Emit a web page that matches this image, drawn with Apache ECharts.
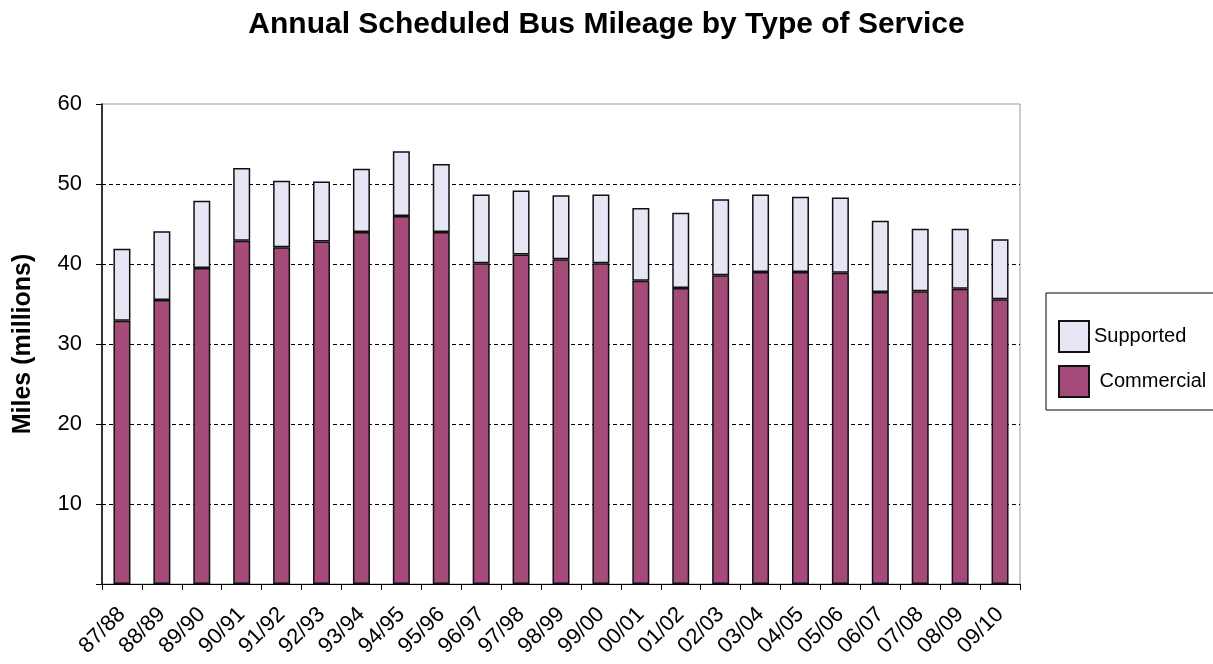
<!DOCTYPE html>
<html><head><meta charset="utf-8">
<script src="https://cdn.jsdelivr.net/npm/echarts@6/dist/echarts.min.js"></script>
<style>html,body{margin:0;padding:0;background:#fff}#c{width:1213px;height:664px}</style>
</head><body><div id="c"></div>
<script>
const categories = ["87/88","88/89","89/90","90/91","91/92","92/93","93/94","94/95","95/96","96/97","97/98","98/99","99/00","00/01","01/02","02/03","03/04","04/05","05/06","06/07","07/08","08/09","09/10"];
const commercial = [32.9,35.5,39.5,42.9,42.1,42.8,44.0,46.0,44.0,40.1,41.2,40.6,40.1,37.9,37.0,38.6,39.0,39.0,38.9,36.5,36.6,36.9,35.6];
const supported  = [9.0,8.6,8.4,9.1,8.3,7.5,7.9,8.1,8.5,8.6,8.0,8.0,8.6,9.1,9.4,9.5,9.7,9.4,9.4,8.9,7.8,7.5,7.5];
const yTicks = [10,20,30,40,50,60];

const chart = echarts.init(document.getElementById('c'));
const F = 'Liberation Sans, Arial, sans-serif';
chart.setOption({
  animation:false,
  textStyle:{fontFamily:F},
  title:{text:'Annual Scheduled Bus Mileage by Type of Service',left:'center',top:5,
    textStyle:{fontFamily:F,fontSize:30,fontWeight:'bold',color:'#000'}},
  grid:{left:102,right:193,top:104,bottom:80,show:true,borderColor:'#999',borderWidth:1},
  legend:{orient:'vertical',left:1046,top:293,data:['Supported','Commercial'],
    icon:'rect',itemWidth:30,itemHeight:31,itemGap:12,padding:[27,40,12,12],
    borderColor:'#000',borderWidth:1,backgroundColor:'#fff',
    formatter:n=>n==='Commercial'?' '+n:n,
    textStyle:{fontFamily:F,fontSize:20,color:'#000'}},
  xAxis:{type:'category',data:categories,boundaryGap:true,
    axisLine:{lineStyle:{color:'#000',width:1}},
    axisTick:{show:true,length:6,lineStyle:{color:'#000'}},
    axisLabel:{rotate:45,fontSize:22,color:'#000',margin:27,interval:0}},
  yAxis:{type:'value',min:0,max:60,interval:10,
    name:'Miles (millions)',nameLocation:'middle',nameGap:66,
    nameTextStyle:{fontFamily:F,fontSize:25,fontWeight:'bold',color:'#000'},
    axisLine:{show:true,lineStyle:{color:'#000',width:1.5}},
    axisTick:{show:true,length:6,lineStyle:{color:'#000'}},
    axisLabel:{fontSize:22,color:'#000',margin:20,formatter:v=>yTicks.includes(v)?String(v):''},
    splitLine:{show:true,showMinLine:false,showMaxLine:false,lineStyle:{color:'#000',type:[4,3],width:1}}},
  series:[
    {name:'Commercial',type:'bar',stack:'t',data:commercial,barWidth:17,
      itemStyle:{color:'#A54B7A',borderColor:'#111',borderWidth:1.5}},
    {name:'Supported',type:'bar',stack:'t',data:supported,barWidth:17,
      itemStyle:{color:'#E6E6F4',borderColor:'#111',borderWidth:1.5}}
  ]
});
</script></body></html>
